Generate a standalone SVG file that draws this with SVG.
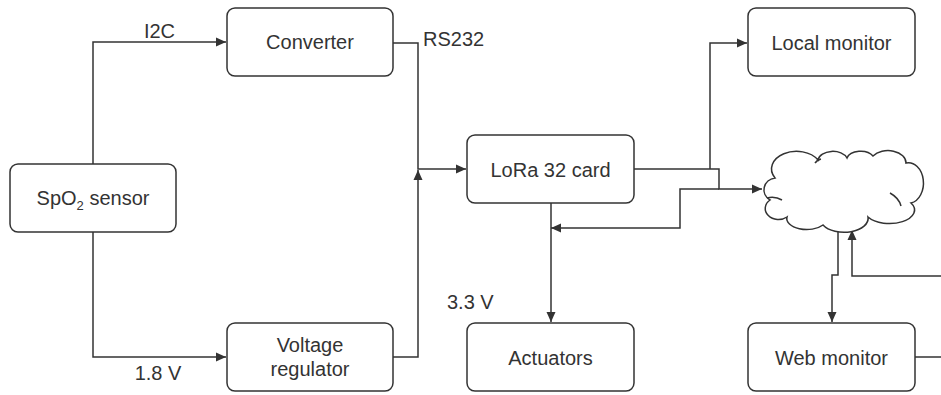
<svg xmlns="http://www.w3.org/2000/svg" width="941" height="395" viewBox="0 0 941 395">
<style>
.box{fill:#fff;stroke:#333;stroke-width:1.5}
.t{font-family:"Liberation Sans",Arial,sans-serif;font-size:20px;fill:#333;text-anchor:middle}
.l{font-family:"Liberation Sans",Arial,sans-serif;font-size:20px;fill:#333}
.c{fill:none;stroke:#333;stroke-width:1.5}
</style>
<defs>
<marker id="ah" markerUnits="userSpaceOnUse" markerWidth="12" markerHeight="12" viewBox="0 0 12 12" refX="11" refY="6" orient="auto">
<path d="M1 1.5 L11 6 L1 10.5 Z" fill="#333"/>
</marker>
</defs>
<rect width="941" height="395" fill="#fff"/>
<g id="connectors">
<path class="c" d="M93 164 V42 H226" marker-end="url(#ah)"/>
<path class="c" d="M93 232 V357 H226" marker-end="url(#ah)"/>
<path class="c" d="M393 43 H418 V169 H466" marker-end="url(#ah)"/>
<path class="c" d="M393 357 H418 V170" marker-end="url(#ah)"/>
<path class="c" d="M634 169 H719 V189 H762" marker-end="url(#ah)"/>
<path class="c" d="M710 169 V43 H747" marker-end="url(#ah)"/>
<path class="c" d="M719 189 H680 V228 H551" marker-end="url(#ah)"/>
<path class="c" d="M551 203 V322" marker-end="url(#ah)"/>
<path class="c" d="M838 228 V275 H832 V322" marker-end="url(#ah)"/>
<path class="c" d="M915 357 H950 V276 H852 V230" marker-end="url(#ah)"/>
<text class="t" x="159.5" y="38">I2C</text>
<text class="t" x="158" y="380">1.8 V</text>
<text class="l" x="423" y="46">RS232</text>
<text class="l" x="447" y="309">3.3 V</text>
</g>
<g id="spo2">
<rect class="box" x="10" y="164" width="166" height="68" rx="8"/>
<text class="t" x="93" y="205">SpO<tspan font-size="13" dy="5">2</tspan><tspan dy="-5"> sensor</tspan></text>
</g>
<g id="converter">
<rect class="box" x="227" y="8" width="166" height="68" rx="8"/>
<text class="t" x="310" y="49">Converter</text>
</g>
<g id="regulator">
<rect class="box" x="227" y="323" width="166" height="68" rx="8"/>
<text class="t" x="310" y="352">Voltage</text>
<text class="t" x="310" y="376">regulator</text>
</g>
<g id="lora">
<rect class="box" x="467" y="135" width="167" height="68" rx="8"/>
<text class="t" x="550.5" y="177">LoRa 32 card</text>
</g>
<g id="actuators">
<rect class="box" x="467" y="323" width="167" height="68" rx="8"/>
<text class="t" x="550.5" y="365">Actuators</text>
</g>
<g id="local">
<rect class="box" x="748" y="8" width="167" height="68" rx="8"/>
<text class="t" x="831.5" y="50">Local monitor</text>
</g>
<g id="web">
<rect class="box" x="748" y="323" width="167" height="68" rx="8"/>
<text class="t" x="831.5" y="365">Web monitor</text>
</g>
<g id="cloud">
<path class="box" d="M770 200 A13 12 0 0 1 775 178 A24 17 0 0 1 818 160 A15 10 0 0 1 847 158 A14 9 0 0 1 873 156 A18 12 0 0 1 906 163 A14 19 0 0 1 911 203 A24 13 0 0 1 868 217 A24 14 0 0 1 823 225 A20 11 0 0 1 787 217 A12 10 0 0 1 770 200 Z"/>
<path class="c" d="M767 198 Q775 196 782 200"/>
<path class="c" d="M890 193 Q899 198 901 206"/>
<path class="c" d="M815 163 Q817 160 821 159"/>
</g>
</svg>
